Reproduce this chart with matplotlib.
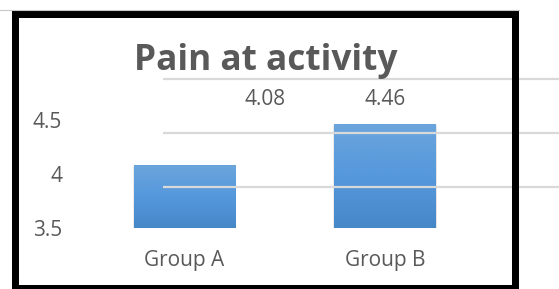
import numpy as np
import matplotlib
matplotlib.use("Agg")
import matplotlib.pyplot as plt
import matplotlib.patches as mpatches
import matplotlib.transforms as mtransforms
import matplotlib.patheffects as pe
from matplotlib.colors import LinearSegmentedColormap

# ---- data ----
categories = ["Group A", "Group B"]
values = [4.08, 4.46]
value_labels = ["4.08", "4.46"]
ytick_values = [3.5, 4.0, 4.5]
ytick_labels = ["3.5", "4", "4.5"]
grid_levels = [4.0, 4.5, 5.0]
title = "Pain at activity"

plt.rcParams['font.family'] = ['Open Sans', 'DejaVu Sans']
TXT = '#595959'

W, H = 559, 289
fig = plt.figure(figsize=(W / 100, H / 100), dpi=100)
fig.patch.set_facecolor('white')

def fx(px):
    return px / W

def fy(py):
    return (H - py) / H

ax = fig.add_axes([fx(84.25), fy(228), fx(485.25) - fx(84.25), fy(66) - fy(228)])
ax.set_xlim(-0.5, 1.5)
ax.set_ylim(3.5, 5.0)
for s in ax.spines.values():
    s.set_visible(False)
ax.patch.set_alpha(0)

x = np.arange(len(categories))
bars = ax.bar(x, np.array(values) - 3.5, bottom=3.5, width=0.504,
              color='#5b9bd5', zorder=2)

cmap = LinearSegmentedColormap.from_list('g', ['#6ba5dc', '#5598dc', '#4687c8'])
grad = np.linspace(0, 1, 256).reshape(-1, 1)
for b in bars:
    b.set_path_effects([
        pe.SimplePatchShadow(offset=(0, -1.5), shadow_rgbFace='#000000', alpha=0.12),
        pe.SimplePatchShadow(offset=(0.8, -0.8), shadow_rgbFace='#000000', alpha=0.10),
        pe.SimplePatchShadow(offset=(-0.8, -0.8), shadow_rgbFace='#000000', alpha=0.08),
        pe.Normal()])
    x0, y0 = b.get_x(), b.get_y()
    x1, y1 = x0 + b.get_width(), y0 + b.get_height()
    im = ax.imshow(grad, extent=[x0, x1, y0, y1], aspect='auto', cmap=cmap,
                   origin='upper', zorder=2.5)
    im.set_clip_path(b)

FS = 15
ax.set_xticks(x)
ax.set_xticklabels(categories, fontsize=FS, color=TXT)
ax.set_yticks(ytick_values)
ax.set_yticklabels(ytick_labels, fontsize=FS, color=TXT)
ax.tick_params(axis='both', length=0)
ax.tick_params(axis='y', pad=16)
ax.tick_params(axis='x', pad=16)

# shifted gridlines (rendered over bars, extending past the frame)
gtrans = mtransforms.offset_copy(ax.get_yaxis_transform(), fig=fig, y=-13 * 0.72, units='points')
gx0 = (163 - 84.25) / 401
gx1 = (560 - 84.25) / 401
for g in grid_levels:
    ax.plot([gx0, gx1], [g, g], transform=gtrans, color='#d9d9d9', lw=1.6,
            clip_on=False, zorder=3, solid_capstyle='butt')

# value labels
label_dx = [0.40, 0.0]
for xi, dx, lab in zip(x, label_dx, value_labels):
    ax.text(xi + dx, 0.796, lab, transform=ax.get_xaxis_transform(),
            ha='center', va='center', fontsize=FS, color=TXT, zorder=4)

# title
fig.text(fx(266), fy(70), title, ha='center', va='baseline', fontsize=25.4,
         fontweight='bold', color=TXT, zorder=5)

# frame
fig.add_artist(mpatches.Rectangle((fx(14.5), fy(287.5)), fx(514.5) - fx(14.5), fy(13.5) - fy(287.5),
                                  transform=fig.transFigure, fill=False, edgecolor='black',
                                  linewidth=7 * 0.72, joinstyle='miter', zorder=6))
fig.add_artist(plt.Line2D([0, fx(518.5)], [fy(9.5), fy(9.5)], transform=fig.transFigure,
                          color='#c8c8c8', lw=0.8, zorder=6))

fig.savefig('out.png', dpi=100)
